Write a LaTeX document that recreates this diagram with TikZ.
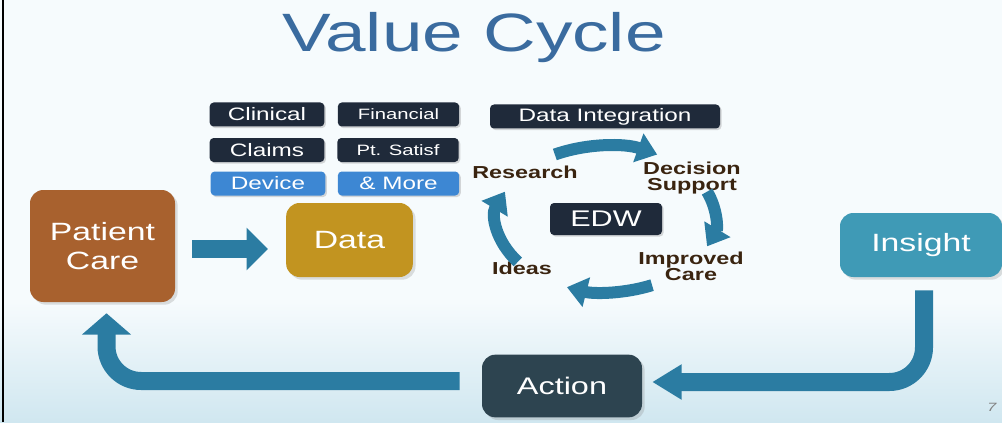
\documentclass[tikz,border=0pt]{standalone}
\usepackage{fontspec}
\setmainfont{Liberation Sans}[FakeStretch=1.35]
\usepackage{xcolor}
\usetikzlibrary{calc, positioning, arrows.meta, shadows}
\definecolor{titleblue}{HTML}{3A6B9F}
\definecolor{navy}{HTML}{1F2A3A}
\definecolor{tagblue}{HTML}{3D87D3}
\definecolor{careorange}{HTML}{A8612E}
\definecolor{datagold}{HTML}{C29420}
\definecolor{insightteal}{HTML}{3F9AB6}
\definecolor{actionslate}{HTML}{2D4450}
\definecolor{flowblue}{HTML}{2B7CA2}
\definecolor{labelbrown}{HTML}{3A2410}
\definecolor{bgtop}{HTML}{F6FBFD}
\definecolor{bgbot}{HTML}{D0E7F0}
\tikzset{
    tag/.style={rectangle, rounded corners=3pt, fill=navy, text=white, minimum height=18pt, inner sep=0pt,
        font=\fontsize{13.5}{16}\selectfont, drop shadow={opacity=0.3, shadow xshift=1.2pt, shadow yshift=-1.2pt}},
    tagsmall/.style={tag, font=\fontsize{11.25}{13}\selectfont},
    bigbox/.style={rectangle, rounded corners=10pt, text=white, align=center, inner sep=0pt,
        font=\fontsize{18.75}{21.75}\selectfont, drop shadow={opacity=0.25, shadow xshift=2pt, shadow yshift=-2pt}},
    cyclelabel/.style={text=labelbrown, align=center, font=\bfseries\fontsize{13}{12}\selectfont},
    cyclearrow/.style={draw=flowblue, line width=9pt, -{Triangle[width=22pt, length=15pt]}},
    flow/.style={draw=flowblue, line width=13.5pt}
}

\begin{document}
\begin{tikzpicture}[x=0.75pt, y=0.75pt]
    \useasboundingbox (0,0) rectangle (1002,422);
    \clip (0,0) rectangle (1002,422);
    % Background
    \fill[bgtop] (0,0) rectangle (1002,422);
    \shade[top color=bgtop, bottom color=bgbot] (0,0) rectangle (1002,120);
    \draw[line width=2pt] (3,0) -- (3,422);

    % Title
    \node[anchor=base, text=titleblue, font=\fontsize{40.5}{44}\selectfont] (title) at (474,370) {Value Cycle};

    % Data sources
    \node[tag, minimum width=86pt] (clinical) at (267,307.5) {Clinical};
    \node[tagsmall, minimum width=91pt] (financial) at (398.5,307.5) {Financial};
    \node[tag, minimum width=86pt] (claims) at (267,272) {Claims};
    \node[tagsmall, minimum width=91pt] (satisf) at (398,272) {Pt. Satisf};
    \node[tag, fill=tagblue, minimum width=86pt] (device) at (268,238.5) {Device};
    \node[tag, fill=tagblue, minimum width=91pt] (more) at (398.5,238.5) {\&~More};

    % EDW cycle
    \node[tag, minimum width=172.5pt] (integration) at (605,305.5) {Data Integration};
    \node[tag, minimum width=84pt, minimum height=24pt, font=\fontsize{17}{20}\selectfont] (edw) at (606,203) {EDW};
    \node[cyclelabel] (research) at (525,250) {Research};
    \node[cyclelabel] (decision) at (692,244) {Decision\\Support};
    \node[cyclelabel] (improved) at (691,156) {Improved\\Care};
    \node[cyclelabel] (ideas) at (522,154) {Ideas};

    \draw[cyclearrow] (edw.center) ++(118:109 and 73) arc[start angle=118, end angle=62, x radius=109, y radius=73];
    \draw[cyclearrow] (edw.center) ++(22:109 and 73) arc[start angle=22, end angle=-22, x radius=109, y radius=73];
    \draw[cyclearrow] (edw.center) ++(-65:109 and 73) arc[start angle=-65, end angle=-111, x radius=109, y radius=73];
    \draw[cyclearrow] (edw.center) ++(216:109 and 73) arc[start angle=216, end angle=158, x radius=109, y radius=73];

    % Main loop
    \node[bigbox, fill=careorange, minimum width=108.75pt, minimum height=84pt] (patient) at (102.5,176) {Patient\\Care};
    \node[bigbox, fill=datagold, minimum width=95pt, minimum height=55.5pt] (data) at (349.5,182) {Data};
    \node[bigbox, fill=insightteal, minimum width=121.5pt, minimum height=48pt] (insight) at (921,177) {Insight};
    \node[bigbox, fill=actionslate, minimum width=120pt, minimum height=47pt, font=\fontsize{18}{21}\selectfont] (action) at (562,36) {Action};

    \draw[flow, -{Triangle[width=31pt, length=16pt]}] ($(patient.east)+(17,-3)$) -- ($(data.west)+(-18,-9)$);
    \draw[flow, rounded corners=26pt, -{Triangle[width=25pt, length=22pt]}] ($(insight.south)+(3,-13)$) |- ($(action.east)+(10,4)$);
    \draw[flow, rounded corners=26pt, -{Triangle[width=36pt, length=16pt]}] ($(action.west)+(-22,5)$) -| ($(patient.south)+(4,-11)$);

    % Page number
    \node[anchor=east, text=gray, font=\itshape\fontsize{9}{9}\selectfont] (page) at (1001,15) {7};
\end{tikzpicture}
\end{document}
